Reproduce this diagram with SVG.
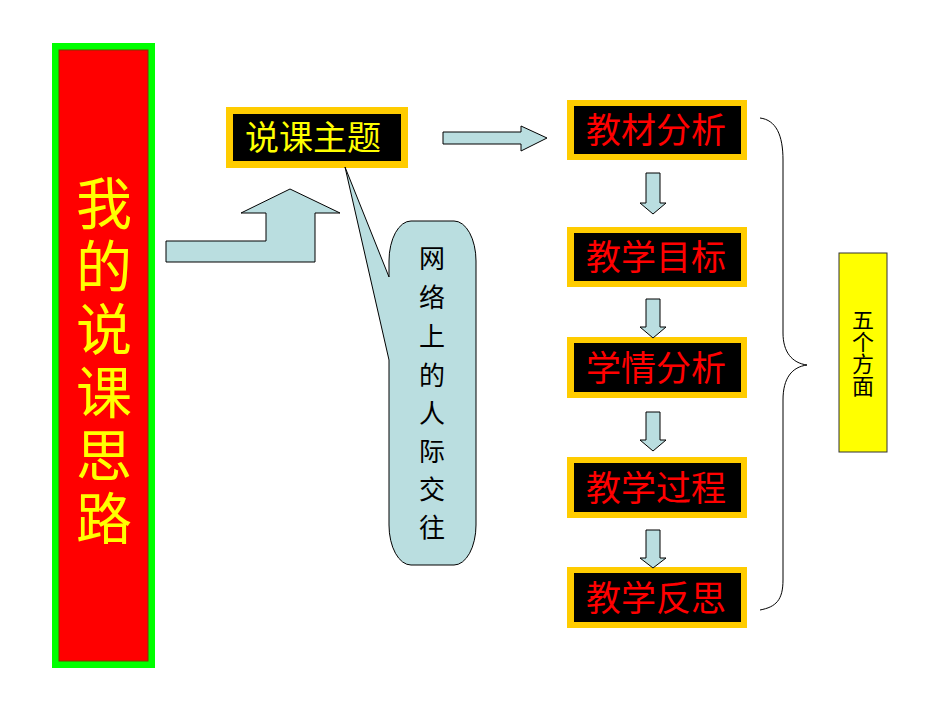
<svg xmlns="http://www.w3.org/2000/svg" width="950" height="713" viewBox="0 0 950 713">
<style>
.arr{fill:#BADEE0;stroke:#000;stroke-width:1}
.ob{fill:#FFCC00}
.ib{fill:#000}
.rt{font-family:"Noto Sans CJK SC","Noto Sans",sans-serif;font-size:35px;fill:#FF0000;text-anchor:middle}
.kai{font-family:"Noto Sans CJK SC",sans-serif;text-anchor:middle}
</style>
<rect width="950" height="713" fill="#fff"/>
<g id="title">
<rect x="52" y="43" width="103" height="625" fill="#00FF00"/>
<rect x="59" y="50" width="89" height="611" fill="#FF0000" stroke="#7a3a00" stroke-width="1"/>
<text class="kai" font-size="56" fill="#FFFF00" x="104" y="364" writing-mode="vertical-rl" letter-spacing="7">我的说课思路</text>
</g>
<g id="topic">
<rect class="ob" x="226" y="107" width="182" height="61"/>
<rect class="ib" x="233" y="114" width="168" height="47"/>
<text class="kai" font-size="34" fill="#FFFF00" x="313" y="150">说课主题</text>
</g>
<g id="bubble">
<path d="M411,221 H454 A22,40 0 0 1 476,261 V525 A22,40 0 0 1 454,565 H411 A22,40 0 0 1 389,525 V360 L345,167 L389,277 V261 A22,40 0 0 1 411,221 Z" fill="#BADEE0" stroke="#000" stroke-width="1"/>
<text class="kai" font-size="26" fill="#000"><tspan x="432" y="268">网</tspan><tspan x="432" y="307">络</tspan><tspan x="432" y="346">上</tspan><tspan x="432" y="385">的</tspan><tspan x="432" y="423">人</tspan><tspan x="432" y="461">际</tspan><tspan x="432" y="499">交</tspan><tspan x="432" y="537">往</tspan></text>
</g>
<g id="b1">
<rect class="ob" x="567" y="100" width="180" height="60"/>
<rect class="ib" x="574" y="106" width="167" height="48"/>
<text class="rt" x="656" y="143">教材分析</text>
</g>
<g id="b2">
<rect class="ob" x="567" y="227" width="180" height="60"/>
<rect class="ib" x="574" y="233" width="167" height="48"/>
<text class="rt" x="656" y="270">教学目标</text>
</g>
<g id="b3">
<rect class="ob" x="567" y="337" width="180" height="61"/>
<rect class="ib" x="574" y="343" width="167" height="49"/>
<text class="rt" x="656" y="381">学情分析</text>
</g>
<g id="b4">
<rect class="ob" x="567" y="457" width="180" height="61"/>
<rect class="ib" x="574" y="463" width="167" height="49"/>
<text class="rt" x="656" y="501">教学过程</text>
</g>
<g id="b5">
<rect class="ob" x="567" y="567" width="180" height="61"/>
<rect class="ib" x="574" y="573" width="167" height="49"/>
<text class="rt" x="656" y="611">教学反思</text>
</g>
<g id="five">
<rect x="839" y="253" width="48" height="199" fill="#FFFF00" stroke="#333" stroke-width="1"/>
<text class="kai" font-size="22" fill="#000" x="863" y="353" writing-mode="vertical-rl">五个方面</text>
</g>
<g id="connectors">
<polygon class="arr" points="166,241 266,241 266,213 241,213 290,189 340,213 315,213 315,262 166,262"/>
<polygon class="arr" points="443,132 521,132 521,126 547,138 521,151 521,144 443,144"/>
<polygon class="arr" points="646,173 660,173 660,203 666,203 653,214 640,203 646,203"/>
<polygon class="arr" points="646,299 660,299 660,327 666,327 653,338 640,327 646,327"/>
<polygon class="arr" points="646,412 660,412 660,440 666,440 653,451 640,440 646,440"/>
<polygon class="arr" points="646,530 660,530 660,558 666,558 653,568 640,558 646,558"/>
<path d="M760,118 C776,120 783,135 783,160 V333 C783,352 792,363 807,365 C792,367 783,378 783,400 V580 C783,600 776,607 760,610" fill="none" stroke="#000" stroke-width="1"/>
</g>
</svg>
